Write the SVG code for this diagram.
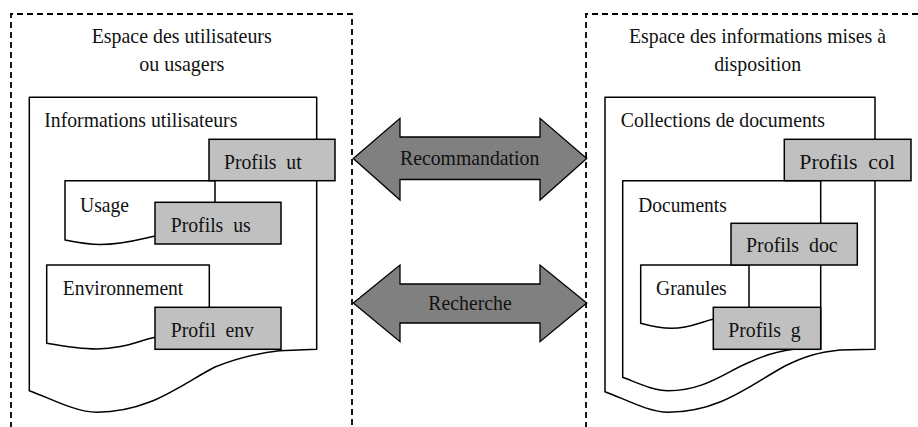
<svg xmlns="http://www.w3.org/2000/svg" width="918" height="427" viewBox="0 0 918 427">
<style>
.dash{fill:none;stroke:#000;stroke-width:1.8;stroke-dasharray:6 4}
.doc{fill:#fff;stroke:#000;stroke-width:1.5;stroke-linejoin:round}
.prof{fill:#c0c0c0;stroke:#000;stroke-width:1.5}
.arrow{fill:#808080;stroke:#000;stroke-width:1.3;stroke-linejoin:miter}
text{font-family:"Liberation Serif","Times New Roman",serif;font-size:21.5px;fill:#111;white-space:pre}
.c{text-anchor:middle}
</style>
<rect width="918" height="427" fill="#fff"/>
<g id="space-users">
<path class="dash" d="M11,428 V14 H352 V428"/>
<text class="c" x="181.7" y="43" textLength="180" lengthAdjust="spacingAndGlyphs">Espace des utilisateurs</text>
<text class="c" x="181.7" y="71" textLength="85" lengthAdjust="spacingAndGlyphs">ou usagers</text>
</g>
<g id="space-info">
<path class="dash" d="M586,428 V14 H920"/>
<text class="c" x="757.5" y="43" textLength="257" lengthAdjust="spacingAndGlyphs">Espace des informations mises à</text>
<text class="c" x="757.7" y="71" textLength="87" lengthAdjust="spacingAndGlyphs">disposition</text>
</g>
<g id="info-utilisateurs">
<path class="doc" d="M29.3,97.3 H316.7 V349.3 L279.3,350.7 C260,353 240,357 215,367 C180,385 150,412 96.7,412.3 C75,412 50,398 29.3,390.7 Z"/>
<text x="44.3" y="127" textLength="193" lengthAdjust="spacingAndGlyphs">Informations utilisateurs</text>
</g>
<g id="usage">
<path class="doc" d="M65,180.7 H215 V236 L155,236 C140,239 125,244.5 100,244.5 C90,244.5 80,243 65,240 Z"/>
<text x="80" y="211.7" textLength="49" lengthAdjust="spacingAndGlyphs">Usage</text>
</g>
<g id="profils-us">
<rect class="prof" x="155" y="202.3" width="126" height="41.7"/>
<text x="170.7" y="231.7" textLength="80" lengthAdjust="spacingAndGlyphs">Profils  us</text>
</g>
<g id="environnement">
<path class="doc" d="M46.7,265 H209.3 V337.3 L155,337.3 C138,341 122,349 96.7,349 C80,349 62,346 46.7,343.3 Z"/>
<text x="62.7" y="295" textLength="120.6" lengthAdjust="spacingAndGlyphs">Environnement</text>
</g>
<g id="profil-env">
<rect class="prof" x="155" y="307.3" width="126" height="42"/>
<text x="170.7" y="337.3" textLength="83.3" lengthAdjust="spacingAndGlyphs">Profil  env</text>
</g>
<g id="profils-ut">
<rect class="prof" x="209" y="139.3" width="126" height="41.4"/>
<text x="224" y="169" textLength="77.7" lengthAdjust="spacingAndGlyphs">Profils  ut</text>
</g>
<g id="collections">
<path class="doc" d="M605,97.3 H875 V349.3 L840,350 C820,352 805,356 785,366 C750,385 720,412 668.3,412.3 C648,412 625,399 605,391.7 Z"/>
<text x="620.7" y="127" textLength="204.3" lengthAdjust="spacingAndGlyphs">Collections de documents</text>
</g>
<g id="documents">
<path class="doc" d="M622.7,180.7 H820.7 V349.3 L793.3,349.3 C780,351 765,355 750,362 C725,372 705,390.7 668.3,390.7 C653,390.7 638,383 622.7,377.3 Z"/>
<text x="638.3" y="211.7" textLength="88.4" lengthAdjust="spacingAndGlyphs">Documents</text>
</g>
<g id="granules">
<path class="doc" d="M640.7,265 H749 V319.3 L713.3,319.3 C700,322 690,328.3 672,328.3 C662,328.3 652,326.5 640.7,323.3 Z"/>
<text x="656" y="295" textLength="70.7" lengthAdjust="spacingAndGlyphs">Granules</text>
</g>
<g id="profils-g">
<rect class="prof" x="713.3" y="307.3" width="107.4" height="42"/>
<text x="728.3" y="337.3" textLength="72.4" lengthAdjust="spacingAndGlyphs">Profils  g</text>
</g>
<g id="profils-doc">
<rect class="prof" x="731" y="223.3" width="126.3" height="41.7"/>
<text x="746" y="252" textLength="91.7" lengthAdjust="spacingAndGlyphs">Profils  doc</text>
</g>
<g id="profils-col">
<rect class="prof" x="784.3" y="139.3" width="126.7" height="41.4"/>
<text x="799.3" y="169" textLength="95.7" lengthAdjust="spacingAndGlyphs">Profils  col</text>
</g>
<g id="connectors">
<g id="recommandation">
<polygon class="arrow" points="353.3,158.5 400,118.3 400,137 540,137 540,118.3 586.7,158.5 540,200 540,179.5 400,179.5 400,200"/>
<text class="c" x="469.7" y="165" textLength="139.3" lengthAdjust="spacingAndGlyphs">Recommandation</text>
</g>
<g id="recherche">
<polygon class="arrow" points="353.3,303 400,265 400,284 540,284 540,265 586.7,303 540,341.7 540,323 400,323 400,341.7"/>
<text class="c" x="470" y="310" textLength="83.3" lengthAdjust="spacingAndGlyphs">Recherche</text>
</g>
</g>
</svg>
